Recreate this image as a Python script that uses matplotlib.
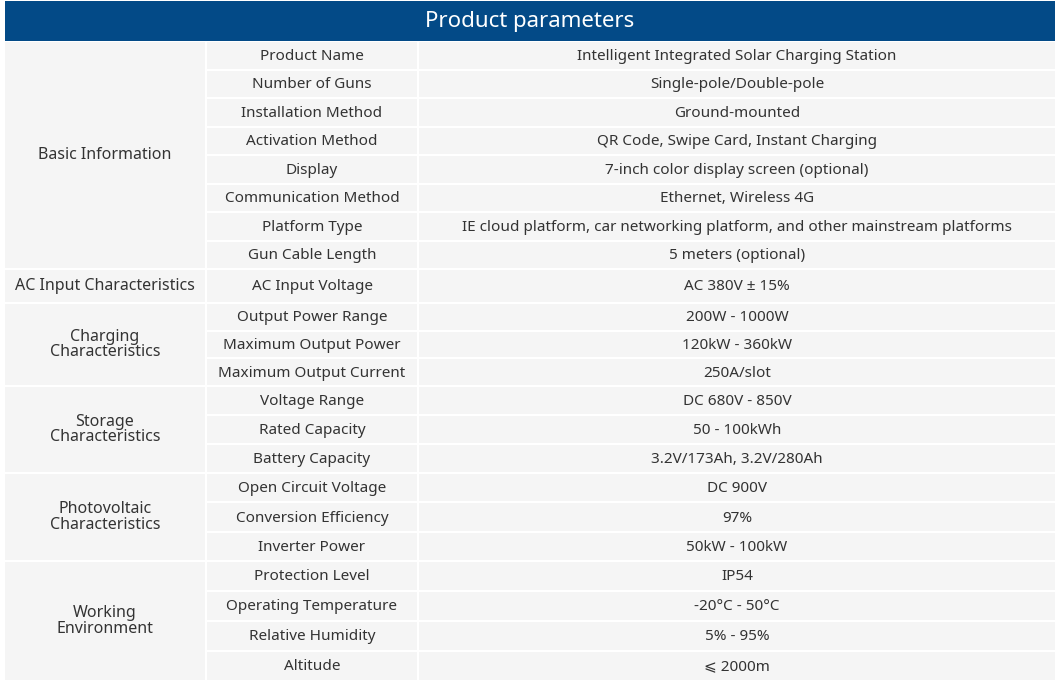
import matplotlib
matplotlib.use("Agg")
import matplotlib.pyplot as plt
from matplotlib.patches import Rectangle

plt.rcParams['font.family'] = ['Noto Sans', 'DejaVu Sans']

title = "Product parameters"
groups = ["Basic Information", "AC Input Characteristics", "Charging\nCharacteristics",
          "Storage\nCharacteristics", "Photovoltaic\nCharacteristics", "Working\nEnvironment"]
params = [
    ["Product Name", "Number of Guns", "Installation Method", "Activation Method", "Display",
     "Communication Method", "Platform Type", "Gun Cable Length"],
    ["AC Input Voltage"],
    ["Output Power Range", "Maximum Output Power", "Maximum Output Current"],
    ["Voltage Range", "Rated Capacity", "Battery Capacity"],
    ["Open Circuit Voltage", "Conversion Efficiency", "Inverter Power"],
    ["Protection Level", "Operating Temperature", "Relative Humidity", "Altitude"],
]
values = [
    ["Intelligent Integrated Solar Charging Station", "Single-pole/Double-pole", "Ground-mounted",
     "QR Code, Swipe Card, Instant Charging", "7-inch color display screen (optional)",
     "Ethernet, Wireless 4G", "IE cloud platform, car networking platform, and other mainstream platforms",
     "5 meters (optional)"],
    ["AC 380V ± 15%"],
    ["200W - 1000W", "120kW - 360kW", "250A/slot"],
    ["DC 680V - 850V", "50 - 100kWh", "3.2V/173Ah, 3.2V/280Ah"],
    ["DC 900V", "97%", "50kW - 100kW"],
    ["IP54", "-20°C - 50°C", "5% - 95%", "⩽ 2000m"],
]

# layout (pixels)
W, H = 1059, 683
group_bounds = [(42, 268), (270, 302), (304, 385), (387, 472), (474, 560), (562, 680)]
cols = [(5, 205), (207, 417), (419, 1055)]
gap = 2
cell = "#f5f5f5"
txt = "#333333"

fig = plt.figure(figsize=(W / 100, H / 100), dpi=100)
ax = fig.add_axes([0, 0, 1, 1])
ax.set_xlim(0, W)
ax.set_ylim(H, 0)
ax.axis("off")

ax.add_patch(Rectangle((5, 1), 1050, 40, color="#034a87", lw=0))
ax.text(530, 21, title, color="white", fontsize=16, fontweight="bold", ha="center", va="center")

for g, (top, bot), ps, vs in zip(groups, group_bounds, params, values):
    x0, x1 = cols[0]
    ax.add_patch(Rectangle((x0, top), x1 - x0, bot - top, color=cell, lw=0))
    ax.text((x0 + x1) / 2, (top + bot) / 2, g, color=txt, fontsize=11.5, ha="center", va="center",
            linespacing=0.95)
    n = len(ps)
    h = (bot - top + gap) / n
    for i, (p, v) in enumerate(zip(ps, vs)):
        rt = top + i * h
        rb = rt + h - gap
        for j, s in ((1, p), (2, v)):
            cx0, cx1 = cols[j]
            ax.add_patch(Rectangle((cx0, rt), cx1 - cx0, rb - rt, color=cell, lw=0))
            bold = (j == 2 and g == groups[0] and i == 0)
            ax.text((cx0 + cx1) / 2, (rt + rb) / 2 + 1, s, color=txt, fontsize=11,
                    ha="center", va="center", fontweight="semibold" if bold else "normal",
                    family=['Noto Sans', 'DejaVu Sans'])

fig.savefig("out.png", dpi=100, facecolor="white")
